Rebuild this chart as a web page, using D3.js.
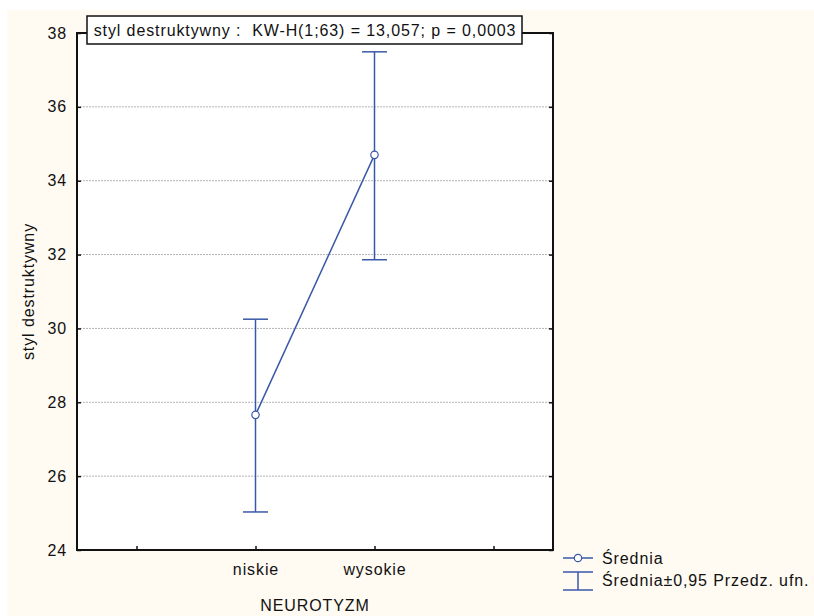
<!DOCTYPE html>
<html>
<head>
<meta charset="utf-8">
<script src="https://cdn.jsdelivr.net/npm/d3@7"></script>
<style>
  body { margin: 0; background: #fff; }
  text { font-family: "Liberation Sans", Arial, sans-serif; fill: #111; }
</style>
</head>
<body>
<div id="chart"></div>
<script>
// data
const categories = ['niskie', 'wysokie']
const means = [27.66, 34.70]
const lower = [25.03, 31.86]
const upper = [30.25, 37.49]
const yTicks = [24, 26, 28, 30, 32, 34, 36, 38]
const title = 'styl destruktywny :  KW-H(1;63) = 13,057; p = 0,0003'
const legendLabels = ['Średnia', 'Średnia±0,95 Przedz. ufn.']

const width = 814, height = 616
const margin = {left: 77, right: 261, top: 33, bottom: 66}
const blue = '#3a58a8'
const fs = 16, ls = 0.9

const svg = d3.select('#chart').append('svg')
  .attr('width', width)
  .attr('height', height)

svg.append('rect')
  .attr('x', 7).attr('y', 10)
  .attr('width', width - 7).attr('height', height - 10)
  .attr('fill', '#fffaf2')

const plotW = width - margin.left - margin.right,
      plotH = height - margin.top - margin.bottom

const x = d3.scaleLinear().domain([-0.5, 3.5]).range([margin.left, margin.left + plotW])
const y = d3.scaleLinear().domain([24, 38]).range([margin.top + plotH, margin.top])

const plot = svg.append('g')

plot.append('rect')
  .attr('x', margin.left).attr('y', margin.top)
  .attr('width', plotW).attr('height', plotH)
  .attr('fill', '#fff')

// dotted grid
plot.append('g').selectAll('line')
  .data(yTicks.filter(d => d > 24 && d < 38))
  .join('line')
  .attr('x1', margin.left).attr('x2', margin.left + plotW)
  .attr('y1', d => y(d)).attr('y2', d => y(d))
  .attr('stroke', '#b4b4b4')
  .attr('stroke-width', 1)
  .attr('stroke-dasharray', '2,1')

// axes with inward ticks
const yAxisL = d3.axisLeft(y).tickValues(yTicks).tickSize(-4).tickPadding(10).tickFormat(d3.format('d'))
const yAxisR = d3.axisRight(y).tickValues(yTicks).tickSize(-4).tickFormat('')
const xAxisB = d3.axisBottom(x).tickValues([0, 1, 2, 3]).tickSize(-4).tickPadding(14)
  .tickFormat(d => categories[d - 1] || '')

function styleAxis(g) {
  g.select('.domain').remove()
  g.selectAll('.tick line').attr('stroke', '#111').attr('stroke-width', 1.5)
  g.selectAll('.tick text')
    .attr('font-size', fs)
    .attr('letter-spacing', ls)
    .attr('font-family', '"Liberation Sans", Arial, sans-serif')
    .attr('fill', '#111')
}

plot.append('g').attr('transform', `translate(${margin.left},0)`).call(yAxisL).call(styleAxis)
plot.append('g').attr('transform', `translate(${margin.left + plotW},0)`).call(yAxisR).call(styleAxis)
plot.append('g').attr('transform', `translate(0,${margin.top + plotH})`).call(xAxisB).call(styleAxis)

// frame
plot.append('rect')
  .attr('x', margin.left).attr('y', margin.top)
  .attr('width', plotW).attr('height', plotH)
  .attr('fill', 'none')
  .attr('stroke', '#111')
  .attr('stroke-width', 2)

// error bars
const capHalf = 12.5
const bars = plot.append('g').selectAll('g')
  .data(categories.map((c, i) => ({i: i + 1, lo: lower[i], hi: upper[i]})))
  .join('g')
  .attr('stroke', blue)
  .attr('stroke-width', 1.5)
bars.append('line')
  .attr('x1', d => x(d.i)).attr('x2', d => x(d.i))
  .attr('y1', d => y(d.lo)).attr('y2', d => y(d.hi))
bars.append('line')
  .attr('x1', d => x(d.i) - capHalf).attr('x2', d => x(d.i) + capHalf)
  .attr('y1', d => y(d.hi)).attr('y2', d => y(d.hi))
bars.append('line')
  .attr('x1', d => x(d.i) - capHalf).attr('x2', d => x(d.i) + capHalf)
  .attr('y1', d => y(d.lo)).attr('y2', d => y(d.lo))

// mean line and points
const pts = means.map((m, i) => [x(i + 1), y(m)])
plot.append('path')
  .attr('d', d3.line()(pts))
  .attr('fill', 'none')
  .attr('stroke', blue)
  .attr('stroke-width', 1.5)
plot.append('g').selectAll('circle')
  .data(pts)
  .join('circle')
  .attr('cx', d => d[0]).attr('cy', d => d[1])
  .attr('r', 3.7)
  .attr('fill', '#fff')
  .attr('stroke', blue)
  .attr('stroke-width', 1.2)

// title box
const tb = svg.append('g')
tb.append('rect')
  .attr('x', 87).attr('y', 16)
  .attr('width', 435).attr('height', 28)
  .attr('fill', '#fff')
  .attr('stroke', '#111')
  .attr('stroke-width', 1.5)
tb.append('text')
  .attr('x', 305).attr('y', 36)
  .attr('text-anchor', 'middle')
  .attr('font-size', fs)
  .attr('letter-spacing', ls)
  .style('white-space', 'pre')
  .text(title)

// axis titles
svg.append('text')
  .attr('x', margin.left + plotW / 2).attr('y', 611)
  .attr('text-anchor', 'middle')
  .attr('font-size', fs)
  .attr('letter-spacing', ls)
  .text('NEUROTYZM')
svg.append('text')
  .attr('transform', `translate(34,${margin.top + plotH / 2}) rotate(-90)`)
  .attr('text-anchor', 'middle')
  .attr('font-size', fs)
  .attr('letter-spacing', ls)
  .text('styl destruktywny')

// legend
const lg = svg.append('g').attr('transform', 'translate(563,558)')
lg.append('line').attr('x1', 0).attr('x2', 30).attr('y1', 0).attr('y2', 0)
  .attr('stroke', blue).attr('stroke-width', 1.5)
lg.append('circle').attr('cx', 15).attr('cy', 0).attr('r', 3.7)
  .attr('fill', '#fff').attr('stroke', blue).attr('stroke-width', 1.2)
lg.append('text').attr('x', 39).attr('y', 6).attr('font-size', fs).attr('letter-spacing', ls).text(legendLabels[0])
const eb = lg.append('g').attr('stroke', blue).attr('stroke-width', 1.5)
eb.append('line').attr('x1', 0).attr('x2', 30).attr('y1', 14).attr('y2', 14)
eb.append('line').attr('x1', 0).attr('x2', 30).attr('y1', 32).attr('y2', 32)
eb.append('line').attr('x1', 15).attr('x2', 15).attr('y1', 14).attr('y2', 32)
lg.append('text').attr('x', 39).attr('y', 28).attr('font-size', fs).attr('letter-spacing', ls).text(legendLabels[1])
</script>
</body>
</html>
